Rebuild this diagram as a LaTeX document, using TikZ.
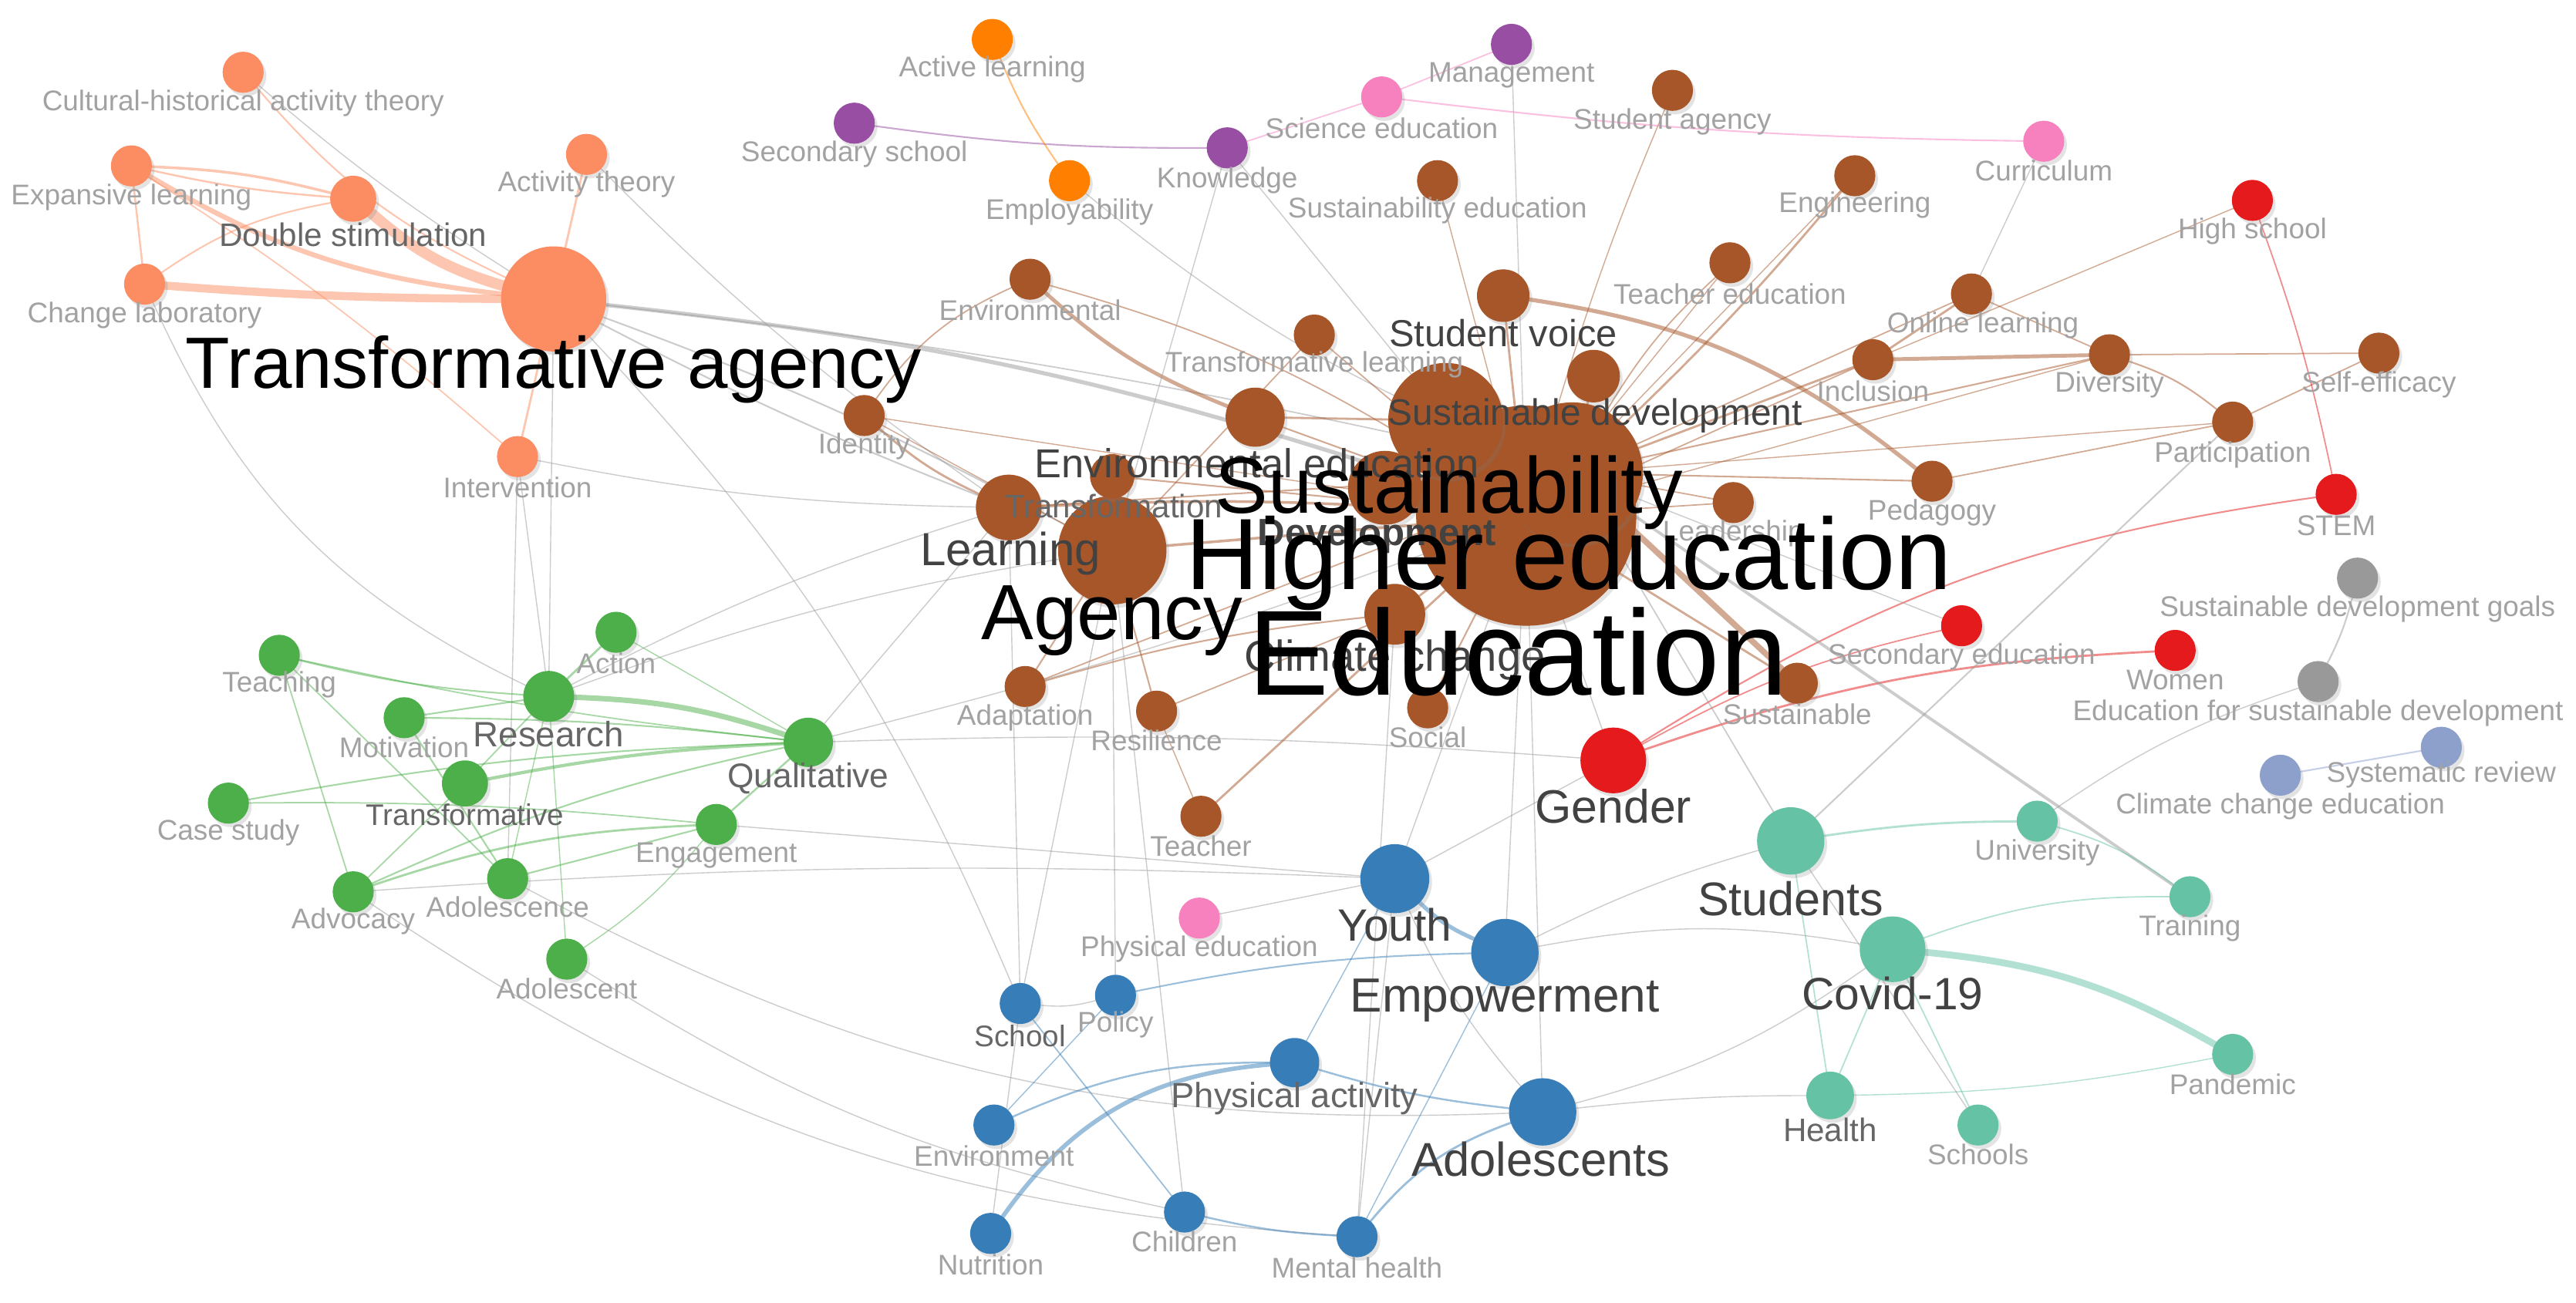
\documentclass[tikz,border=0pt]{standalone}
\usepackage{fontspec}
\setmainfont{Liberation Sans}
\usetikzlibrary{shadows}
\pgfdeclarelayer{bg}
\pgfsetlayers{bg,main}
\definecolor{sal}{HTML}{FC8D62}
\definecolor{org}{HTML}{FF7F00}
\definecolor{pur}{HTML}{984EA3}
\definecolor{pnk}{HTML}{F781BF}
\definecolor{brn}{HTML}{A65628}
\definecolor{rd}{HTML}{E41A1C}
\definecolor{gry}{HTML}{999999}
\definecolor{lav}{HTML}{8DA0CB}
\definecolor{tel}{HTML}{66C2A5}
\definecolor{blu}{HTML}{377EB8}
\definecolor{grn}{HTML}{4DAF4A}
\definecolor{labgray}{HTML}{A2A2A2}
\definecolor{midgray}{HTML}{666666}
\definecolor{dkgray}{HTML}{424242}
\def\unitpx{0.0213cm}
\tikzset{
  knot/.style={circle,inner sep=0pt,outer sep=0pt,draw=none,
    drop shadow={shadow xshift=1pt,shadow yshift=-1.3pt,opacity=0.22}},
  lbl/.style={inner sep=0pt,text=labgray,font=\fontsize{10.5}{12}\selectfont},
  fs/.style={font=\fontsize{#1}{#1}\selectfont},
  ec/.style={draw=#1,draw opacity=0.5,line cap=round},
}
\newcommand\nd[5]{\node[knot,fill=#5,minimum size=#4*\unitpx] (#1) at (#2,#3) {};}
\newcommand\lb[5]{\node[lbl,#4] (l#1) at (#2,#3) {#5};}
\newcommand\ed[4]{\draw[#3] (#1) to[#4] (#2);}
\begin{document}
\begin{tikzpicture}[x=0.0213cm,y=-0.0213cm]
\useasboundingbox (0,0) rectangle (1568,793);
% ---------------- nodes (big first)
\nd{edu}{929}{314}{134}{brn}
\nd{hed}{957}{288}{86}{brn}
\nd{susy}{880}{256}{70}{brn}
\nd{agy}{677}{335}{66}{brn}
\nd{tra}{337}{182}{64}{sal}
\nd{dev}{843}{297}{45}{brn}
\nd{lea}{614}{309}{40}{brn}
\nd{eed}{764}{254}{36}{brn}
\nd{clc}{849}{374}{37}{brn}
\nd{trf}{677}{290}{27}{brn}
\nd{svo}{915}{180}{32}{brn}
\nd{sud}{970}{229}{32}{brn}
\nd{cha}{148}{44}{25}{sal}
\nd{exl}{80}{101}{25}{sal}
\nd{dst}{215}{121}{28}{sal}
\nd{chl}{88}{173}{25}{sal}
\nd{act}{357}{94}{25}{sal}
\nd{itv}{315}{278}{25}{sal}
\nd{acl}{604}{24}{25}{org}
\nd{emp}{651}{110}{25}{org}
\nd{mgt}{920}{27}{25}{pur}
\nd{ssc}{520}{75}{25}{pur}
\nd{knw}{747}{90}{25}{pur}
\nd{sce}{841}{59}{25}{pnk}
\nd{cur}{1244}{86}{25}{pnk}
\nd{phe}{730}{559}{25}{pnk}
\nd{sag}{1018}{55}{25}{brn}
\nd{sed}{875}{110}{25}{brn}
\nd{eng}{1129}{107}{25}{brn}
\nd{env}{627}{170}{25}{brn}
\nd{ted}{1053}{160}{25}{brn}
\nd{trl}{800}{204}{25}{brn}
\nd{onl}{1200}{179}{25}{brn}
\nd{inc}{1140}{219}{25}{brn}
\nd{div}{1284}{216}{25}{brn}
\nd{sef}{1448}{215}{25}{brn}
\nd{idt}{526}{253}{25}{brn}
\nd{lds}{1055}{306}{25}{brn}
\nd{ped}{1176}{293}{25}{brn}
\nd{par}{1359}{257}{25}{brn}
\nd{ada}{624}{418}{25}{brn}
\nd{res}{704}{433}{25}{brn}
\nd{soc}{869}{431}{25}{brn}
\nd{sus}{1094}{416}{25}{brn}
\nd{tea}{731}{497}{25}{brn}
\nd{hsc}{1371}{122}{25}{rd}
\nd{stm}{1422}{301}{25}{rd}
\nd{sec}{1194}{381}{25}{rd}
\nd{wom}{1324}{396}{25}{rd}
\nd{gen}{982}{463}{40}{rd}
\nd{sdg}{1435}{352}{25}{gry}
\nd{esd}{1411}{415}{25}{gry}
\nd{syr}{1486}{455}{25}{lav}
\nd{cce}{1388}{472}{25}{lav}
\nd{uni}{1240}{500}{25}{tel}
\nd{stu}{1090}{512}{41}{tel}
\nd{cov}{1152}{578}{40}{tel}
\nd{trn}{1333}{546}{25}{tel}
\nd{pan}{1359}{642}{25}{tel}
\nd{hea}{1114}{667}{29}{tel}
\nd{sch}{1204}{685}{25}{tel}
\nd{you}{849}{535}{42}{blu}
\nd{emw}{916}{580}{41}{blu}
\nd{ado}{939}{677}{41}{blu}
\nd{mhe}{826}{753}{25}{blu}
\nd{pha}{788}{647}{30}{blu}
\nd{scl}{621}{611}{25}{blu}
\nd{pol}{679}{606}{25}{blu}
\nd{evt}{605}{685}{25}{blu}
\nd{nut}{603}{751}{25}{blu}
\nd{chi}{721}{738}{25}{blu}
\nd{tch}{170}{399}{25}{grn}
\nd{acn}{375}{385}{25}{grn}
\nd{rsc}{334}{424}{31}{grn}
\nd{mot}{246}{437}{25}{grn}
\nd{tfv}{283}{477}{28}{grn}
\nd{cas}{139}{489}{25}{grn}
\nd{qua}{492}{452}{30}{grn}
\nd{enm}{436}{502}{25}{grn}
\nd{adv}{215}{543}{25}{grn}
\nd{adc}{309}{535}{25}{grn}
\nd{adt}{345}{584}{25}{grn}
% ---------------- edges
\begin{pgfonlayer}{bg}
% salmon
\ed{dst}{tra}{ec=sal,line width=4pt}{bend right=12}
\ed{chl}{tra}{ec=sal,line width=3pt}{bend right=2}
\ed{exl}{tra}{ec=sal,line width=1.8pt}{bend right=12}
\ed{exl}{dst}{ec=sal,line width=1pt}{bend left=6}
\ed{exl}{dst}{ec=sal,line width=0.7pt}{bend right=4}
\ed{exl}{chl}{ec=sal,line width=0.7pt}{}
\ed{chl}{dst}{ec=sal,line width=0.6pt}{bend left=12}
\ed{cha}{tra}{ec=sal,line width=0.6pt}{bend right=12}
\ed{cha}{tra}{ec=gry,line width=0.4pt}{bend right=4}
\ed{act}{tra}{ec=sal,line width=0.8pt}{}
\ed{itv}{tra}{ec=sal,line width=0.8pt}{}
\ed{exl}{itv}{ec=sal,line width=0.5pt}{bend left=4}
% gray from transformative agency
\ed{tra}{edu}{ec=gry,line width=1.5pt}{bend left=6}
\ed{tra}{agy}{ec=gry,line width=0.6pt}{bend left=4}
\ed{tra}{lea}{ec=gry,line width=0.6pt}{bend right=3}
\ed{tra}{hed}{ec=gry,line width=0.5pt}{bend left=3}
\ed{tra}{rsc}{ec=gry,line width=0.4pt}{}
\ed{act}{lea}{ec=gry,line width=0.4pt}{bend right=5}
\ed{chl}{rsc}{ec=gry,line width=0.4pt}{bend right=20}
\ed{itv}{rsc}{ec=gry,line width=0.4pt}{}
\ed{itv}{adc}{ec=gry,line width=0.4pt}{}
\ed{itv}{lea}{ec=gry,line width=0.4pt}{bend right=5}
\ed{tra}{scl}{ec=gry,line width=0.4pt}{bend left=10}
% green
\ed{rsc}{qua}{ec=grn,line width=2pt}{bend left=8}
\ed{tch}{rsc}{ec=grn,line width=0.6pt}{bend right=5}
\ed{tch}{qua}{ec=grn,line width=0.5pt}{bend right=3}
\ed{tch}{adv}{ec=grn,line width=0.5pt}{}
\ed{tch}{adc}{ec=grn,line width=0.5pt}{}
\ed{mot}{rsc}{ec=grn,line width=0.6pt}{}
\ed{mot}{qua}{ec=grn,line width=0.6pt}{bend left=3}
\ed{mot}{adc}{ec=grn,line width=0.6pt}{}
\ed{tfv}{qua}{ec=grn,line width=1.2pt}{bend left=4}
\ed{tfv}{rsc}{ec=grn,line width=0.5pt}{}
\ed{tfv}{adv}{ec=grn,line width=0.5pt}{}
\ed{cas}{qua}{ec=grn,line width=0.6pt}{bend left=4}
\ed{cas}{enm}{ec=grn,line width=0.5pt}{bend left=3}
\ed{adv}{enm}{ec=grn,line width=0.8pt}{bend left=8}
\ed{adv}{qua}{ec=grn,line width=0.6pt}{bend left=6}
\ed{adc}{enm}{ec=grn,line width=0.6pt}{}
\ed{acn}{rsc}{ec=grn,line width=0.8pt}{}
\ed{acn}{qua}{ec=grn,line width=0.4pt}{}
\ed{enm}{qua}{ec=grn,line width=0.7pt}{}
\ed{adt}{enm}{ec=grn,line width=0.4pt}{bend right=8}
\ed{adc}{rsc}{ec=grn,line width=0.4pt}{}
\ed{adt}{rsc}{ec=grn,line width=0.4pt}{}
% gray from green
\ed{qua}{edu}{ec=gry,line width=0.4pt}{bend right=3}
\ed{qua}{gen}{ec=gry,line width=0.4pt}{bend left=3}
\ed{rsc}{agy}{ec=gry,line width=0.4pt}{bend left=5}
\ed{rsc}{lea}{ec=gry,line width=0.4pt}{bend left=5}
\ed{adv}{you}{ec=gry,line width=0.4pt}{bend left=3}
\ed{adc}{ado}{ec=gry,line width=0.4pt}{bend right=15}
\ed{adt}{chi}{ec=gry,line width=0.4pt}{bend right=10}
\ed{adv}{mhe}{ec=gry,line width=0.4pt}{bend right=15}
\ed{enm}{you}{ec=gry,line width=0.4pt}{}
\ed{qua}{lea}{ec=gry,line width=0.4pt}{}
% brown
\ed{env}{eed}{ec=brn,line width=1.4pt}{bend right=10}
\ed{env}{idt}{ec=brn,line width=0.5pt}{bend right=15}
\ed{env}{edu}{ec=brn,line width=0.5pt}{bend left=8}
\ed{idt}{lea}{ec=brn,line width=0.8pt}{bend right=8}
\ed{idt}{edu}{ec=brn,line width=0.4pt}{}
\ed{idt}{agy}{ec=brn,line width=0.4pt}{}
\ed{svo}{ped}{ec=brn,line width=1.5pt}{bend left=15}
\ed{svo}{edu}{ec=brn,line width=0.8pt}{}
\ed{eng}{hed}{ec=brn,line width=0.8pt}{bend left=3}
\ed{eng}{edu}{ec=brn,line width=0.4pt}{}
\ed{sag}{edu}{ec=brn,line width=0.4pt}{bend right=3}
\ed{sed}{edu}{ec=brn,line width=0.4pt}{}
\ed{mgt}{edu}{ec=gry,line width=0.4pt}{}
\ed{knw}{edu}{ec=gry,line width=0.4pt}{}
\ed{knw}{agy}{ec=gry,line width=0.4pt}{}
\ed{emp}{hed}{ec=gry,line width=0.4pt}{bend right=8}
\ed{ted}{hed}{ec=brn,line width=0.5pt}{bend right=8}
\ed{ted}{edu}{ec=brn,line width=0.4pt}{}
\ed{onl}{inc}{ec=brn,line width=0.8pt}{}
\ed{onl}{hed}{ec=brn,line width=0.5pt}{}
\ed{onl}{div}{ec=brn,line width=0.5pt}{}
\ed{inc}{div}{ec=brn,line width=1.4pt}{}
\ed{inc}{hed}{ec=brn,line width=0.8pt}{}
\ed{inc}{edu}{ec=brn,line width=0.5pt}{}
\ed{div}{sef}{ec=brn,line width=0.5pt}{}
\ed{div}{par}{ec=brn,line width=0.6pt}{bend left=10}
\ed{div}{hed}{ec=brn,line width=0.6pt}{}
\ed{div}{edu}{ec=brn,line width=0.4pt}{}
\ed{sef}{par}{ec=brn,line width=0.5pt}{}
\ed{ped}{par}{ec=brn,line width=0.5pt}{}
\ed{par}{hed}{ec=brn,line width=0.4pt}{}
\ed{ped}{hed}{ec=brn,line width=0.6pt}{}
\ed{lds}{hed}{ec=brn,line width=0.5pt}{}
\ed{lds}{edu}{ec=brn,line width=0.5pt}{}
\ed{hed}{sus}{ec=brn,line width=2.2pt}{}
\ed{edu}{sus}{ec=brn,line width=0.8pt}{}
\ed{agy}{ada}{ec=brn,line width=0.6pt}{}
\ed{agy}{res}{ec=brn,line width=0.6pt}{}
\ed{agy}{edu}{ec=brn,line width=1pt}{}
\ed{lea}{edu}{ec=brn,line width=1pt}{bend left=3}
\ed{lea}{hed}{ec=brn,line width=0.6pt}{}
\ed{trf}{edu}{ec=brn,line width=0.6pt}{}
\ed{eed}{susy}{ec=brn,line width=0.8pt}{}
\ed{eed}{edu}{ec=brn,line width=0.6pt}{}
\ed{trl}{edu}{ec=brn,line width=0.5pt}{}
\ed{trl}{agy}{ec=brn,line width=0.5pt}{}
\ed{clc}{edu}{ec=brn,line width=0.8pt}{}
\ed{soc}{edu}{ec=brn,line width=0.6pt}{}
\ed{tea}{edu}{ec=brn,line width=0.8pt}{}
\ed{res}{tea}{ec=brn,line width=0.4pt}{}
\ed{ada}{clc}{ec=brn,line width=0.6pt}{bend left=5}
\ed{ada}{hed}{ec=brn,line width=0.5pt}{}
\ed{res}{clc}{ec=brn,line width=0.5pt}{}
\ed{sud}{hed}{ec=brn,line width=0.8pt}{}
% red
\ed{gen}{wom}{ec=rd,line width=0.8pt}{bend left=8}
\ed{gen}{stm}{ec=rd,line width=0.6pt}{bend left=12}
\ed{gen}{sec}{ec=rd,line width=0.5pt}{bend left=8}
\ed{hsc}{stm}{ec=rd,line width=0.5pt}{bend left=4}
\ed{hsc}{inc}{ec=brn,line width=0.4pt}{}
\ed{sec}{hed}{ec=gry,line width=0.4pt}{}
% misc
\ed{sdg}{esd}{ec=gry,line width=0.6pt}{bend left=6}
\ed{esd}{uni}{ec=gry,line width=0.4pt}{bend right=8}
\ed{cce}{syr}{ec=lav,line width=0.6pt}{}
\ed{cur}{onl}{ec=gry,line width=0.4pt}{}
\ed{sce}{cur}{ec=pnk,line width=0.6pt}{bend right=3}
\ed{sce}{mgt}{ec=pnk,line width=0.5pt}{}
\ed{ssc}{knw}{ec=pur,line width=0.6pt}{bend right=4}
\ed{knw}{sce}{ec=pnk,line width=0.5pt}{}
\ed{acl}{emp}{ec=org,line width=0.6pt}{bend right=6}
\ed{hed}{trn}{ec=gry,line width=1.1pt}{}
\ed{par}{stu}{ec=gry,line width=0.6pt}{}
\ed{stu}{hed}{ec=gry,line width=0.5pt}{}
% teal
\ed{cov}{pan}{ec=tel,line width=2.5pt}{bend left=12}
\ed{stu}{uni}{ec=tel,line width=0.8pt}{bend left=4}
\ed{stu}{hea}{ec=tel,line width=0.5pt}{}
\ed{cov}{hea}{ec=tel,line width=0.5pt}{}
\ed{cov}{sch}{ec=tel,line width=0.5pt}{}
\ed{cov}{trn}{ec=tel,line width=0.5pt}{bend left=10}
\ed{uni}{trn}{ec=tel,line width=0.5pt}{bend left=10}
\ed{hea}{pan}{ec=tel,line width=0.4pt}{bend right=5}
\ed{stu}{sch}{ec=gry,line width=0.4pt}{}
% blue
\ed{nut}{pha}{ec=blu,line width=1.6pt}{bend left=25}
\ed{evt}{pha}{ec=blu,line width=0.7pt}{bend left=12}
\ed{pha}{ado}{ec=blu,line width=0.7pt}{bend right=5}
\ed{mhe}{ado}{ec=blu,line width=0.8pt}{bend left=15}
\ed{chi}{mhe}{ec=blu,line width=0.7pt}{bend right=5}
\ed{you}{emw}{ec=blu,line width=1.5pt}{bend right=10}
\ed{scl}{chi}{ec=blu,line width=0.5pt}{}
\ed{pol}{emw}{ec=blu,line width=0.6pt}{bend left=5}
\ed{pol}{evt}{ec=blu,line width=0.4pt}{}
\ed{you}{pha}{ec=blu,line width=0.4pt}{}
\ed{emw}{mhe}{ec=blu,line width=0.4pt}{}
\ed{scl}{pol}{ec=gry,line width=0.4pt}{bend right=10}
\ed{you}{mhe}{ec=gry,line width=0.4pt}{}
\ed{you}{ado}{ec=gry,line width=0.4pt}{bend right=8}
\ed{phe}{you}{ec=gry,line width=0.4pt}{}
\ed{gen}{you}{ec=gry,line width=0.4pt}{}
\ed{gen}{edu}{ec=gry,line width=0.4pt}{}
\ed{stu}{emw}{ec=gry,line width=0.4pt}{bend right=5}
\ed{ado}{hea}{ec=gry,line width=0.4pt}{bend left=3}
\ed{emw}{cov}{ec=gry,line width=0.4pt}{bend left=10}
\ed{ado}{cov}{ec=gry,line width=0.4pt}{bend right=10}
\ed{scl}{agy}{ec=gry,line width=0.4pt}{}
\ed{scl}{lea}{ec=gry,line width=0.4pt}{}
\ed{pol}{agy}{ec=gry,line width=0.4pt}{}
\ed{nut}{scl}{ec=gry,line width=0.4pt}{}
\ed{you}{edu}{ec=gry,line width=0.4pt}{}
\ed{emw}{edu}{ec=gry,line width=0.4pt}{}
\ed{ado}{edu}{ec=gry,line width=0.4pt}{}
\ed{chi}{agy}{ec=gry,line width=0.4pt}{}
\ed{mhe}{clc}{ec=gry,line width=0.4pt}{}
\end{pgfonlayer}
% ---------------- labels
\lb{cha}{148}{63}{}{Cultural-historical activity theory}
\lb{exl}{80}{120}{}{Expansive learning}
\lb{dst}{215}{143}{fs=12,text=midgray}{Double stimulation}
\lb{chl}{88}{192}{}{Change laboratory}
\lb{act}{357}{112}{}{Activity theory}
\lb{itv}{315}{297}{}{Intervention}
\lb{acl}{604}{42}{}{Active learning}
\lb{emp}{651}{129}{}{Employability}
\lb{mgt}{920}{46}{}{Management}
\lb{ssc}{520}{94}{}{Secondary school}
\lb{knw}{747}{110}{}{Knowledge}
\lb{sce}{841}{78}{}{Science education}
\lb{cur}{1244}{104}{}{Curriculum}
\lb{phe}{730}{578}{}{Physical education}
\lb{sag}{1018}{74}{}{Student agency}
\lb{sed}{875}{128}{}{Sustainability education}
\lb{eng}{1129}{125}{}{Engineering}
\lb{env}{627}{189}{}{Environmental}
\lb{ted}{1053}{179}{}{Teacher education}
\lb{trl}{800}{222}{}{Transformative learning}
\lb{onl}{1207}{198}{}{Online learning}
\lb{inc}{1140}{238}{}{Inclusion}
\lb{div}{1284}{234}{}{Diversity}
\lb{sef}{1448}{234}{}{Self-efficacy}
\lb{idt}{526}{272}{}{Identity}
\lb{lds}{1055}{325}{}{Leadership}
\lb{ped}{1176}{312}{}{Pedagogy}
\lb{par}{1359}{277}{}{Participation}
\lb{ada}{624}{437}{}{Adaptation}
\lb{res}{704}{451}{}{Resilience}
\lb{soc}{869}{449}{}{Social}
\lb{sus}{1094}{435}{}{Sustainable}
\lb{tea}{731}{515}{}{Teacher}
\lb{hsc}{1371}{141}{}{High school}
\lb{stm}{1422}{320}{}{STEM}
\lb{sec}{1194}{400}{}{Secondary education}
\lb{wom}{1324}{414}{}{Women}
\lb{sdg}{1435}{371}{}{Sustainable development goals}
\lb{esd}{1411}{434}{}{Education for sustainable development}
\lb{syr}{1486}{472}{}{Systematic review}
\lb{cce}{1388}{491}{}{Climate change education}
\lb{uni}{1240}{519}{}{University}
\lb{trn}{1333}{565}{}{Training}
\lb{pan}{1359}{660}{}{Pandemic}
\lb{hea}{1114}{688}{fs=12,text=midgray}{Health}
\lb{sch}{1204}{703}{}{Schools}
\lb{mhe}{826}{772}{}{Mental health}
\lb{scl}{621}{631}{fs=11,text=midgray}{School}
\lb{pol}{679}{624}{}{Policy}
\lb{evt}{605}{704}{}{Environment}
\lb{nut}{603}{770}{}{Nutrition}
\lb{chi}{721}{756}{}{Children}
\lb{tch}{170}{417}{}{Teaching}
\lb{acn}{375}{404}{}{Action}
\lb{mot}{246}{455}{}{Motivation}
\lb{cas}{139}{507}{}{Case study}
\lb{enm}{436}{521}{}{Engagement}
\lb{adv}{215}{561}{}{Advocacy}
\lb{adc}{309}{552}{}{Adolescence}
\lb{adt}{345}{602}{}{Adolescent}
\lb{rsc}{334}{447}{fs=13,text=midgray}{Research}
\lb{tfv}{283}{496}{fs=11,text=midgray}{Transformative}
\lb{qua}{492}{474}{fs=12.6,text=midgray}{Qualitative}
\lb{trf}{678}{308}{fs=12,text=midgray}{Transformation}
\lb{pha}{788}{669}{fs=12.9,text=midgray}{Physical activity}
\lb{dev}{838}{326}{font=\bfseries\fontsize{14}{14}\selectfont,text=dkgray}{Development}
\lb{svo}{915}{203}{fs=13.9,text=dkgray}{Student voice}
\lb{sud}{971}{253}{fs=13.6,text=dkgray}{Sustainable development}
\lb{eed}{765}{282}{fs=14.9,text=dkgray}{Environmental education}
\lb{lea}{615}{337}{fs=17.1,text=dkgray}{Learning}
\lb{clc}{849}{402}{fs=16,text=dkgray}{Climate change}
\lb{gen}{982}{491}{fs=17.3,text=dkgray}{Gender}
\lb{stu}{1090}{547}{fs=17.4,text=dkgray}{Students}
\lb{cov}{1152}{605}{fs=16.7,text=dkgray}{Covid-19}
\lb{you}{849}{563}{fs=16.7,text=dkgray}{Youth}
\lb{emw}{916}{609}{fs=17.7,text=dkgray}{Empowerment}
\lb{ado}{938}{706}{fs=17.5,text=dkgray}{Adolescents}
\lb{tra}{337}{225}{fs=26.8,text=black}{Transformative agency}
\lb{susy}{882}{300}{fs=29.3,text=black}{Sustainability}
\lb{agy}{677}{378}{fs=28.9,text=black}{Agency}
\lb{hed}{955}{343}{fs=37.4,text=black}{Higher education}
\lb{edu}{924}{397}{fs=44.7,text=black}{Education}
\end{tikzpicture}
\end{document}
